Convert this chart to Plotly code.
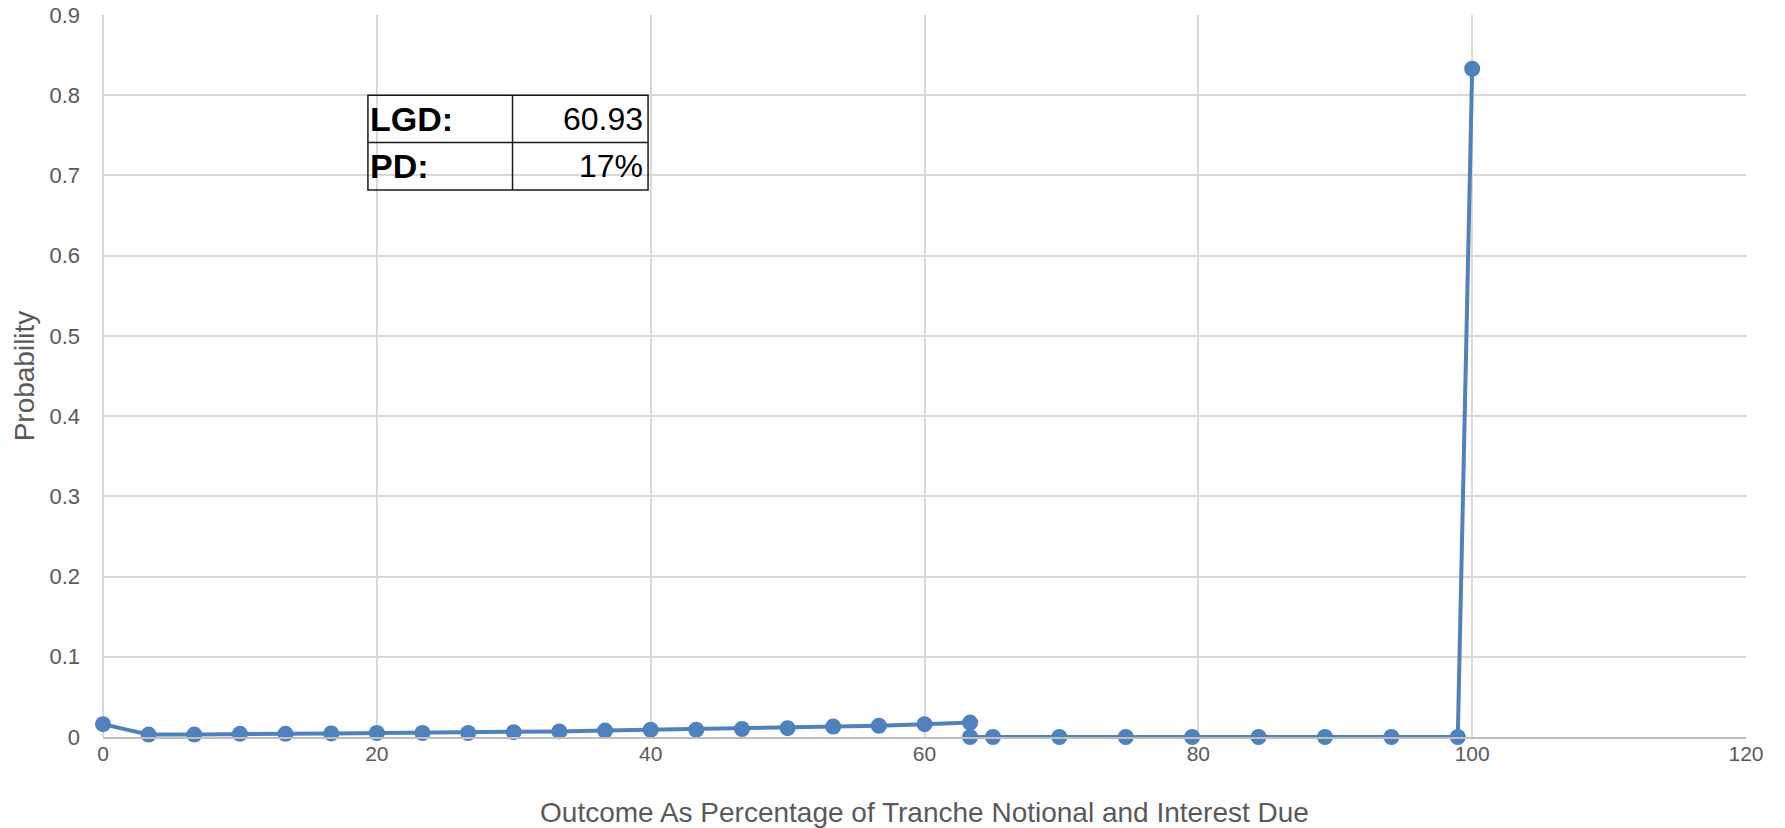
import plotly.graph_objects as go

# Outcome (% of tranche notional and interest due) and its probability
outcome = [0, 3.33, 6.67, 10, 13.33, 16.67, 20, 23.33, 26.67, 30,
           33.33, 36.67, 40, 43.33, 46.67, 50, 53.33, 56.67, 60, 63.33,
           63.33, 65, 69.85, 74.7, 79.55, 84.4, 89.25, 94.1, 98.95, 100]
probability = [0.016, 0.003, 0.003, 0.004, 0.004, 0.0045, 0.005, 0.005, 0.005, 0.006,
               0.007, 0.008, 0.009, 0.009, 0.010, 0.011, 0.013, 0.014, 0.016, 0.018,
               0.0, 0.0, 0.0, 0.0, 0.0, 0.0, 0.0, 0.0, 0.0, 0.833]

# Summary table
table_labels = ["LGD:", "PD:"]
table_values = ["60.93", "17%"]

x_ticks = [0, 20, 40, 60, 80, 100, 120]
y_ticks = [0, 0.1, 0.2, 0.3, 0.4, 0.5, 0.6, 0.7, 0.8, 0.9]

BLUE = "#4F81BD"
GRID = "#D9D9D9"
TEXT = "#595959"
FONT = "Liberation Sans, Arial, sans-serif"

fig = go.Figure()
fig.add_trace(go.Scatter(
    x=outcome, y=probability, mode="lines+markers",
    line=dict(color=BLUE, width=4),
    marker=dict(color=BLUE, size=16),
    showlegend=False, cliponaxis=False,
))

# Table cell geometry in data coordinates
tx0, txm, tx1 = 19.35, 29.91, 39.81
ty_top, ty_mid, ty_bot = 0.800, 0.741, 0.682
border = dict(color="#1a1a1a", width=1.5)
fig.add_shape(type="rect", x0=tx0, x1=tx1, y0=ty_bot, y1=ty_top,
              xref="x", yref="y", line=border, fillcolor="rgba(0,0,0,0)")
fig.add_shape(type="line", x0=tx0, x1=tx1, y0=ty_mid, y1=ty_mid,
              xref="x", yref="y", line=border)
fig.add_shape(type="line", x0=txm, x1=txm, y0=ty_bot, y1=ty_top,
              xref="x", yref="y", line=border)

rows_y = [(ty_top + ty_mid) / 2, (ty_mid + ty_bot) / 2]
for lab, val, ry in zip(table_labels, table_values, rows_y):
    fig.add_annotation(x=tx0, y=ry, xref="x", yref="y", text="<b>" + lab + "</b>",
                       showarrow=False, xanchor="left", yanchor="middle", xshift=0,
                       font=dict(family=FONT, size=34, color="#000000"))
    fig.add_annotation(x=tx1, y=ry, xref="x", yref="y", text=val,
                       showarrow=False, xanchor="right", yanchor="middle", xshift=-3,
                       font=dict(family=FONT, size=32, color="#000000"))

fig.update_layout(
    width=1785, height=828,
    margin=dict(l=103, r=39, t=15, b=91, autoexpand=False),
    paper_bgcolor="white", plot_bgcolor="white",
    font=dict(family=FONT, color=TEXT),
)
fig.update_xaxes(
    range=[0, 120], tickvals=x_ticks, ticktext=[str(v) for v in x_ticks],
    showgrid=True, gridcolor=GRID, gridwidth=1.5,
    zeroline=True, zerolinecolor=GRID, zerolinewidth=1.5,
    showline=True, linecolor="#BFBFBF", linewidth=1.5,
    ticks="", ticklabelstandoff=-3,
    tickfont=dict(family=FONT, size=21, color=TEXT),
    title=dict(text="Outcome As Percentage of Tranche Notional and Interest Due",
               font=dict(family=FONT, size=28, color=TEXT), standoff=39),
    automargin=False, mirror=False,
)
fig.update_yaxes(
    range=[0, 0.9], tickvals=y_ticks, ticktext=["0", "0.1", "0.2", "0.3", "0.4", "0.5", "0.6", "0.7", "0.8", "0.9"],
    showgrid=True, gridcolor=GRID, gridwidth=1.5,
    zeroline=True, zerolinecolor="#BFBFBF", zerolinewidth=1.5,
    showline=False, ticks="", ticklabelstandoff=22,
    tickfont=dict(family=FONT, size=22, color=TEXT),
    title=dict(text="Probability", font=dict(family=FONT, size=28, color=TEXT), standoff=6),
    automargin=False,
)

fig.write_html("out.html")
